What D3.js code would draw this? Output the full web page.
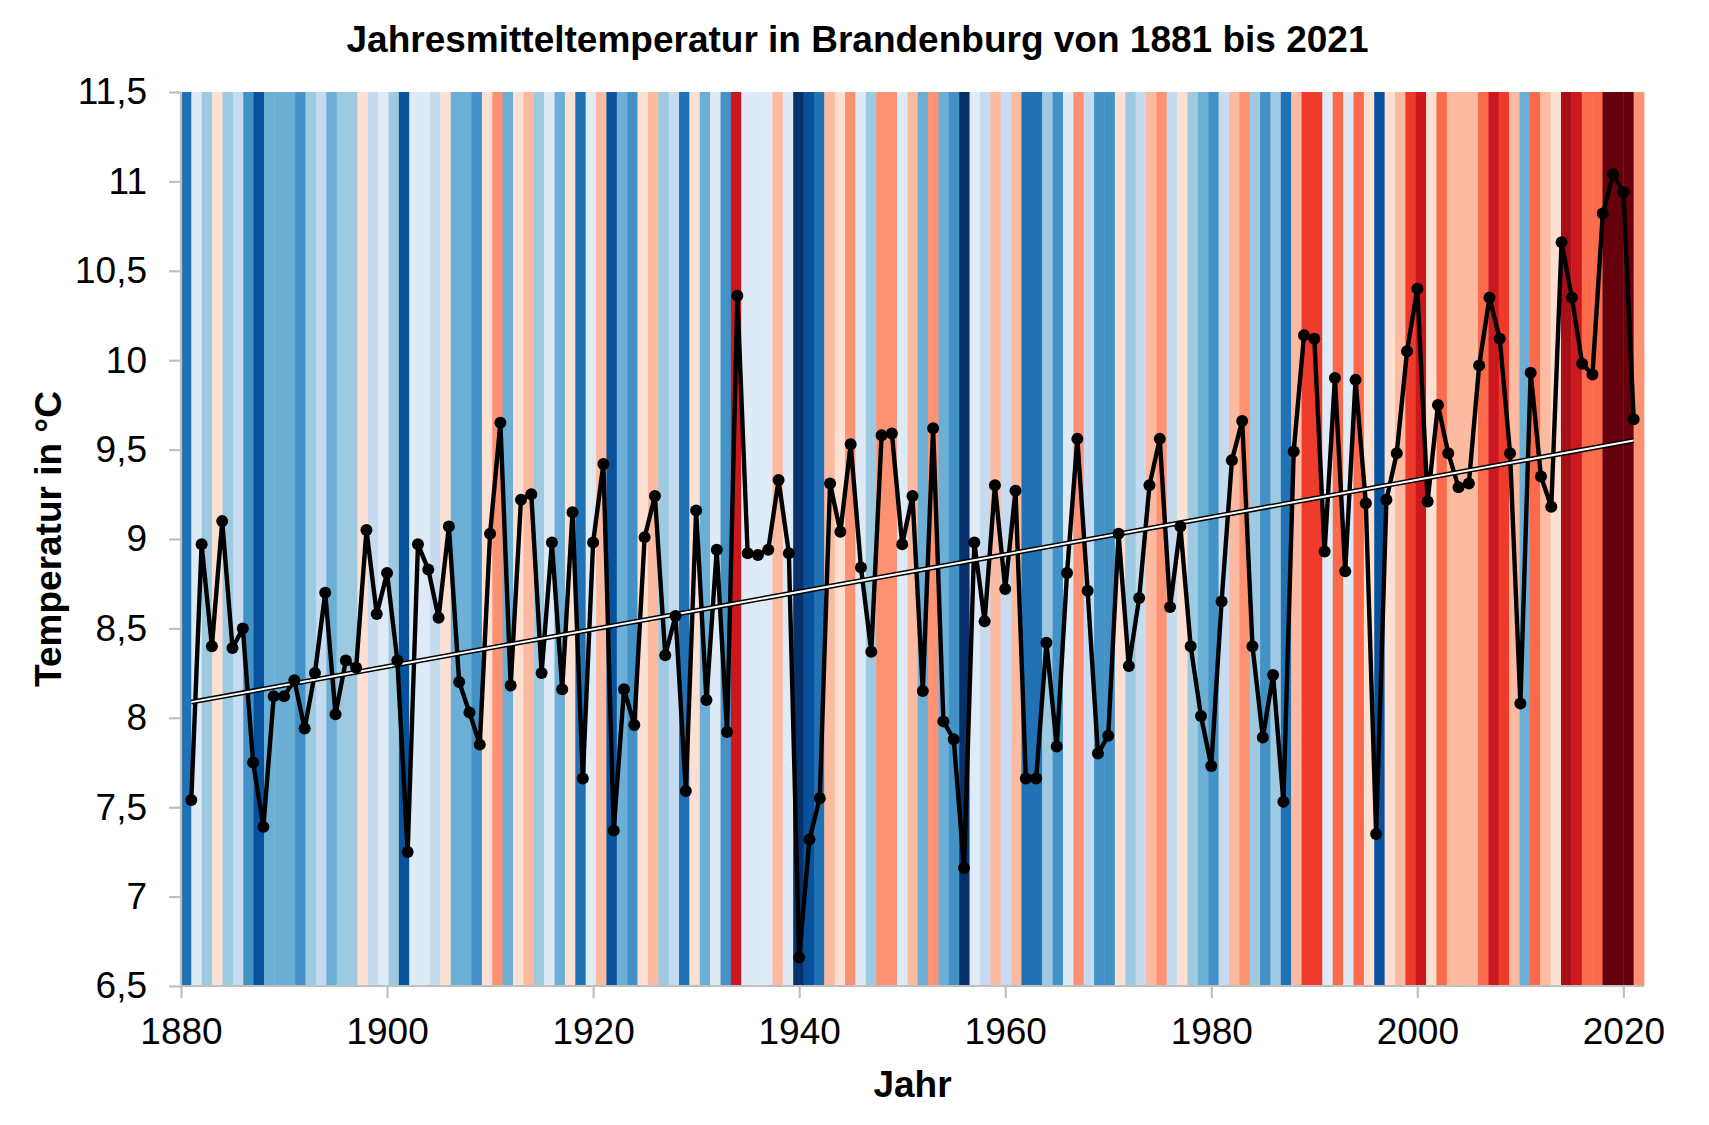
<!DOCTYPE html>
<html>
<head>
<meta charset="utf-8">
<script src="https://cdn.jsdelivr.net/npm/d3@7"></script>
<style>
  body { margin: 0; background: #fff; }
  text { font-family: "Liberation Sans", Arial, sans-serif; fill: #000; }
</style>
</head>
<body>
<svg id="chart"></svg>
<script>
// Jahresmittel Brandenburg
var years = d3.range(1881, 2022);
var temps = [
  7.54, 8.97, 8.40, 9.10, 8.39, 8.50, 7.75, 7.39, 8.12, 8.12,   // 1881-1890
  8.21, 7.94, 8.25, 8.70, 8.02, 8.32, 8.28, 9.05, 8.58, 8.81,   // 1891-1900
  8.32, 7.25, 8.97, 8.83, 8.56, 9.07, 8.20, 8.03, 7.85, 9.03,   // 1901-1910
  9.65, 8.18, 9.22, 9.25, 8.25, 8.98, 8.16, 9.15, 7.66, 8.98,   // 1911-1920
  9.42, 7.37, 8.16, 7.96, 9.01, 9.24, 8.35, 8.57, 7.59, 9.16,   // 1921-1930
  8.10, 8.94, 7.92, 10.36, 8.92, 8.91, 8.94, 9.33, 8.92, 6.66,  // 1931-1940
  7.32, 7.55, 9.31, 9.04, 9.53, 8.84, 8.37, 9.58, 9.59, 8.97,   // 1941-1950
  9.24, 8.15, 9.62, 7.98, 7.88, 7.16, 8.98, 8.54, 9.30, 8.72,   // 1951-1960
  9.27, 7.66, 7.66, 8.42, 7.84, 8.81, 9.56, 8.71, 7.80, 7.90,   // 1961-1970
  9.03, 8.29, 8.67, 9.30, 9.56, 8.62, 9.07, 8.40, 8.01, 7.73,   // 1971-1980
  8.65, 9.44, 9.66, 8.40, 7.89, 8.24, 7.53, 9.49, 10.14, 10.12, // 1981-1990
  8.93, 9.90, 8.82, 9.89, 9.20, 7.35, 9.22, 9.48, 10.05, 10.40, // 1991-2000
  9.21, 9.75, 9.48, 9.29, 9.31, 9.97, 10.35, 10.12, 9.48, 8.08, // 2001-2010
  9.93, 9.35, 9.18, 10.66, 10.35, 9.98, 9.92, 10.82, 11.04, 10.94, // 2011-2020
  9.67                                                           // 2021
];
var xTicks = [1880, 1900, 1920, 1940, 1960, 1980, 2000, 2020];
var yTicks = [6.5, 7, 7.5, 8, 8.5, 9, 9.5, 10, 10.5, 11, 11.5];
// class limits of the stripe colours (°C)
var stripeBreaks = [7.2, 7.45, 7.7, 7.97, 8.225, 8.46, 8.76, 8.995, 9.235, 9.51, 9.7, 10.0, 10.25, 10.5, 10.75];

var data = years.map(function (y, i) { return { year: y, t: temps[i] }; });

var width = 1709, height = 1125;
var plotLeft = 181, plotRight = 1644, plotTop = 92, plotBottom = 986;
var fontSize = 37;

var svg = d3.select("#chart").attr("width", width).attr("height", height);

var x = d3.scaleLinear().domain([1880, 2022]).range([plotLeft, plotRight]);
var y = d3.scaleLinear().domain([6.5, 11.5]).range([plotBottom, plotTop]);
var band = d3.scaleBand().domain(years).range([plotLeft, plotRight]).padding(0);

var palette = d3.schemeBlues[9].slice(1).reverse().concat(d3.schemeReds[9].slice(1));
var stripeColor = d3.scaleThreshold().domain(stripeBreaks).range(palette);

// stripes
svg.append("g")
  .attr("class", "stripes")
  .selectAll("rect")
  .data(data)
  .enter()
  .append("rect")
  .attr("x", function (d) { return band(d.year); })
  .attr("y", plotTop)
  .attr("width", band.bandwidth() + 0.4)
  .attr("height", plotBottom - plotTop)
  .attr("fill", function (d) { return stripeColor(d.t); });

// axes
var de = d3.formatLocale({ decimal: ",", thousands: ".", grouping: [3], currency: ["", " €"] });
var yAxis = d3.axisLeft(y).tickValues(yTicks).tickSize(12).tickPadding(22)
  .tickFormat(function (v) { return de.format("~g")(v); });
var xAxis = d3.axisBottom(x).tickValues(xTicks).tickSize(12).tickPadding(20)
  .tickFormat(d3.format("d"));

var gy = svg.append("g").attr("transform", "translate(" + plotLeft + ",0)").call(yAxis);
var gx = svg.append("g").attr("transform", "translate(0," + plotBottom + ")").call(xAxis);
[gx, gy].forEach(function (g) {
  g.select(".domain").attr("stroke", "#bfbfbf").attr("stroke-width", 2.2);
  g.selectAll(".tick line").attr("stroke", "#bfbfbf").attr("stroke-width", 2.2);
  g.selectAll(".tick text").style("font-size", fontSize + "px").attr("fill", "#000");
});
gy.select(".domain").attr("d", "M0," + plotBottom + "V" + plotTop);
gx.select(".domain").attr("d", "M" + plotLeft + ",0H" + plotRight);

// data line
var line = d3.line().x(function (d) { return x(d.year); }).y(function (d) { return y(d.t); });
svg.append("path")
  .datum(data)
  .attr("d", line)
  .attr("fill", "none")
  .attr("stroke", "#000")
  .attr("stroke-width", 4.4)
  .attr("stroke-linejoin", "round");

// linear trend (least squares)
var mx = d3.mean(data, function (d) { return d.year; });
var my = d3.mean(data, function (d) { return d.t; });
var slope = d3.sum(data, function (d) { return (d.year - mx) * (d.t - my); }) /
            d3.sum(data, function (d) { return (d.year - mx) * (d.year - mx); });
var trend = [years[0], years[years.length - 1]].map(function (yr) {
  return { year: yr, t: my + slope * (yr - mx) };
});
svg.append("path").datum(trend).attr("d", line)
  .attr("stroke", "#000").attr("stroke-width", 5).attr("fill", "none");
svg.append("path").datum(trend).attr("d", line)
  .attr("stroke", "#fff").attr("stroke-width", 2).attr("fill", "none");

// markers
svg.append("g")
  .selectAll("circle")
  .data(data)
  .enter()
  .append("circle")
  .attr("cx", function (d) { return x(d.year); })
  .attr("cy", function (d) { return y(d.t); })
  .attr("r", 6)
  .attr("fill", "#000");

// titles
svg.append("text")
  .attr("x", width / 2 + 3)
  .attr("y", 52)
  .attr("text-anchor", "middle")
  .style("font-size", fontSize + "px")
  .style("font-weight", "bold")
  .text("Jahresmitteltemperatur in Brandenburg von 1881 bis 2021");

svg.append("text")
  .attr("x", (plotLeft + plotRight) / 2)
  .attr("y", 1097)
  .attr("text-anchor", "middle")
  .style("font-size", fontSize + "px")
  .style("font-weight", "bold")
  .text("Jahr");

svg.append("text")
  .attr("transform", "translate(61," + (plotTop + plotBottom) / 2 + ") rotate(-90)")
  .attr("text-anchor", "middle")
  .style("font-size", fontSize + "px")
  .style("font-weight", "bold")
  .text("Temperatur in °C");
</script>
</body>
</html>
